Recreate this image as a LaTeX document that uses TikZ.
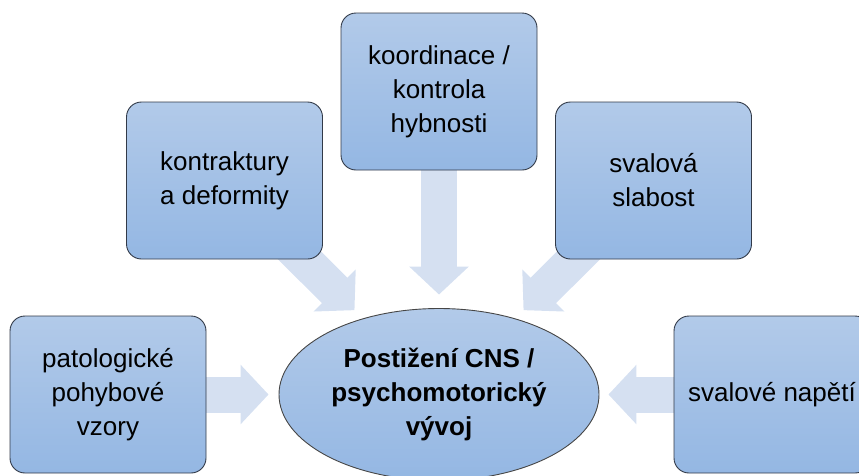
\documentclass[tikz,border=0pt]{standalone}
\usepackage{fontspec}
\setmainfont{Liberation Sans}
\usetikzlibrary{shapes.geometric,arrows.meta,backgrounds}

\definecolor{boxtop}{RGB}{178,202,233}
\definecolor{boxbot}{RGB}{148,183,227}
\definecolor{rim}{RGB}{50,58,72}
\definecolor{pale}{RGB}{213,224,241}

\tikzset{
  factor/.style={draw=rim, line width=0.9pt, rounded corners=15pt,
    top color=boxtop, bottom color=boxbot,
    minimum width=196pt, minimum height=157pt, inner sep=0pt,
    align=center, font=\fontsize{26}{34}\selectfont},
  core/.style={ellipse, draw=gray!55!black, line width=0.9pt,
    top color=boxtop, bottom color=boxbot,
    minimum width=320pt, minimum height=172pt, inner sep=0pt,
    align=center, font=\bfseries\fontsize{26}{34}\selectfont},
  push/.style={draw=pale, line width=36pt, -{Triangle[length=28pt,width=58pt]}}
}

\begin{document}
\begin{tikzpicture}[x=1pt, y=-1pt]

\useasboundingbox (0,0) rectangle (859,475);

% the five causes round the centre
\node[factor] (pat) at (108,394.5) {patologick\'e\\pohybov\'e\\vzory};
\node[factor] (kon) at (224.5,180.5) {kontraktury\\a deformity};
\node[factor] (koo) at (439,91.5) {koordinace /\\kontrola\\hybnosti};
\node[factor] (sla) at (653.5,180.5) {svalov\'a\\slabost};
\node[factor] (nap) at (772,394.5) {svalov\'e nap\v{e}t\'i};

\node[core] (cns) at (439,394.5) {Posti\v{z}en\'i CNS /\\psychomotorick\'y\\v\'yvoj};

% block arrows, behind the boxes
\begin{scope}[on background layer]
 \draw[push, shorten >=10pt] (pat) -- (cns);
 \draw[push, shorten >=11.7pt] (kon.center) -- (cns);
 \draw[push, shorten >=13.5pt] (koo) -- (cns);
 \draw[push, shorten >=11.7pt] (sla.center) -- (cns);
 \draw[push, shorten >=9pt] (nap) -- (cns);
\end{scope}

\end{tikzpicture}
\end{document}
